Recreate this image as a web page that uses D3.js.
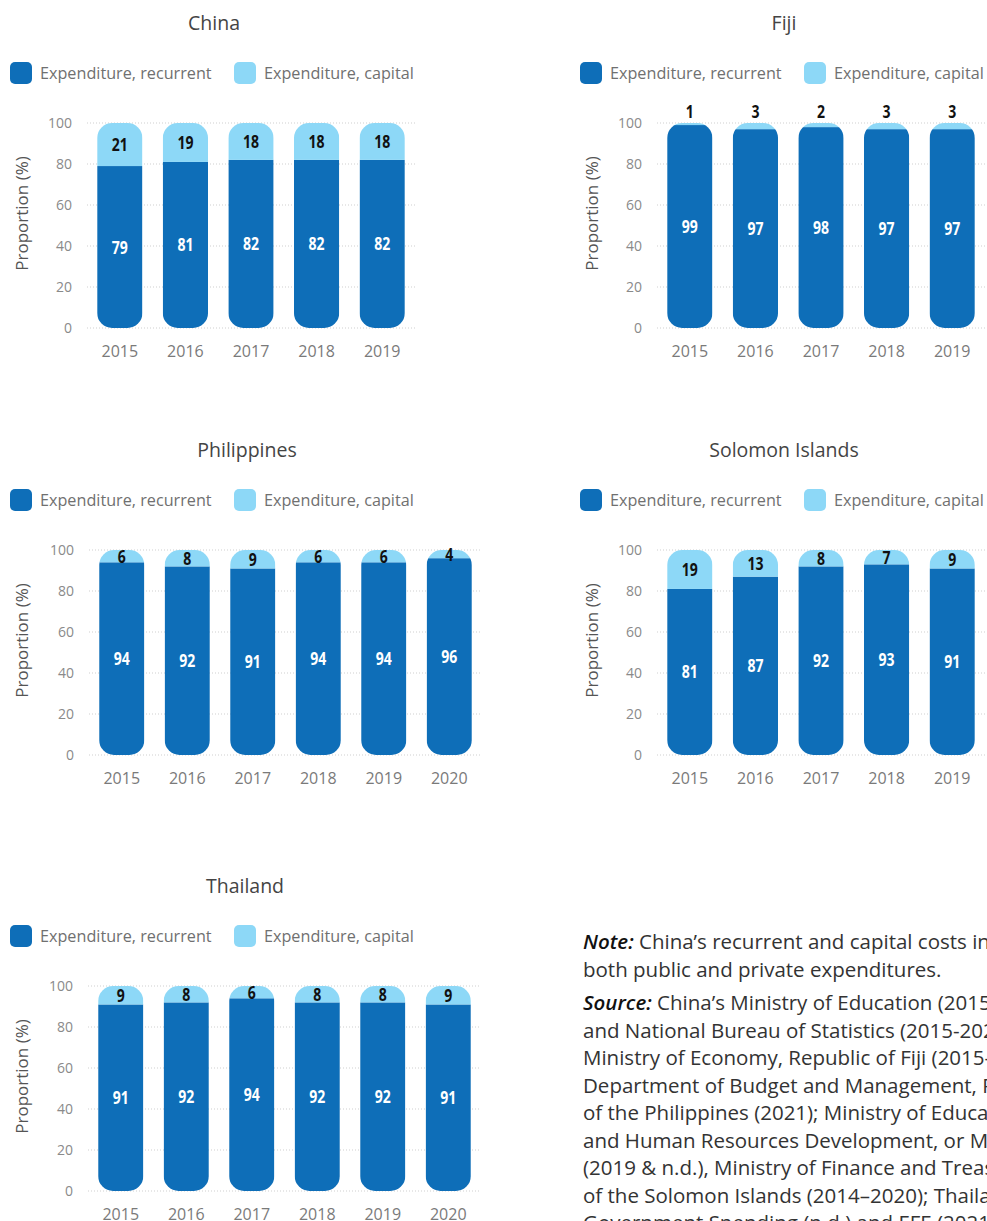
<!DOCTYPE html>
<html>
<head>
<meta charset="utf-8">
<script src="https://cdn.jsdelivr.net/npm/d3@7"></script>
<style>
  html, body { margin: 0; padding: 0; background: #fff; overflow: hidden; }
  svg { display: block; }
</style>
</head>
<body>
<svg id="chart" width="987" height="1221"></svg>
<script>
// Share of education expenditure: recurrent vs capital (%)
const yTicks = [0, 20, 40, 60, 80, 100];
const seriesNames = ["Expenditure, recurrent", "Expenditure, capital"];

const chinaYears = ["2015", "2016", "2017", "2018", "2019"];
const chinaRecurrent = [79, 81, 82, 82, 82];
const chinaCapital = [21, 19, 18, 18, 18];

const fijiYears = ["2015", "2016", "2017", "2018", "2019"];
const fijiRecurrent = [99, 97, 98, 97, 97];
const fijiCapital = [1, 3, 2, 3, 3];

const philippinesYears = ["2015", "2016", "2017", "2018", "2019", "2020"];
const philippinesRecurrent = [94, 92, 91, 94, 94, 96];
const philippinesCapital = [6, 8, 9, 6, 6, 4];

const solomonYears = ["2015", "2016", "2017", "2018", "2019"];
const solomonRecurrent = [81, 87, 92, 93, 91];
const solomonCapital = [19, 13, 8, 7, 9];

const thailandYears = ["2015", "2016", "2017", "2018", "2019", "2020"];
const thailandRecurrent = [91, 92, 94, 92, 92, 91];
const thailandCapital = [9, 8, 6, 8, 8, 9];

const noteLines = [
  "China’s recurrent and capital costs include",
  "both public and private expenditures."
];
const sourceLines = [
  "China’s Ministry of Education (2015-2020)",
  "and National Bureau of Statistics (2015-2020);",
  "Ministry of Economy, Republic of Fiji (2015-2020);",
  "Department of Budget and Management, Republic",
  "of the Philippines (2021); Ministry of Education",
  "and Human Resources Development, or MEHRD",
  "(2019 & n.d.), Ministry of Finance and Treasury",
  "of the Solomon Islands (2014–2020); Thailand’s",
  "Government Spending (n.d.) and EFE (2021)."
];

const DARK = "#0e6eb8";
const LIGHT = "#8dd8f7";
const FONT = "'Open Sans', 'Noto Sans', sans-serif";

const svg = d3.select("#chart");
const defs = svg.append("defs");

const panels = [
  { title: "China", years: chinaYears, rec: chinaRecurrent, cap: chinaCapital,
    ox: 0, oy: 0, titleX: 214, left: 87, right: 415 },
  { title: "Fiji", years: fijiYears, rec: fijiRecurrent, cap: fijiCapital,
    ox: 570, oy: 0, titleX: 214, left: 87, right: 415 },
  { title: "Philippines", years: philippinesYears, rec: philippinesRecurrent, cap: philippinesCapital,
    ox: 0, oy: 427, titleX: 247, left: 89, right: 482 },
  { title: "Solomon Islands", years: solomonYears, rec: solomonRecurrent, cap: solomonCapital,
    ox: 570, oy: 427, titleX: 214, left: 87, right: 415 },
  { title: "Thailand", years: thailandYears, rec: thailandRecurrent, cap: thailandCapital,
    ox: 0, oy: 863, titleX: 245, left: 88, right: 481 }
];

panels.forEach((p, pi) => {
  const g = svg.append("g").attr("transform", `translate(${p.ox},${p.oy})`);
  const plotTop = 123, plotBottom = 328;

  // title
  g.append("text")
    .attr("x", p.titleX).attr("y", 30)
    .attr("text-anchor", "middle")
    .attr("font-family", FONT).attr("font-size", 19.5)
    .attr("fill", "#444")
    .text(p.title);

  // legend
  const legendX = [10, 234];
  seriesNames.forEach((name, i) => {
    const lg = g.append("g").attr("transform", `translate(${legendX[i]},62)`);
    lg.append("rect").attr("width", 22).attr("height", 22).attr("rx", 5)
      .attr("fill", i === 0 ? DARK : LIGHT);
    lg.append("text").attr("x", 30).attr("y", 17)
      .attr("font-family", FONT).attr("font-size", 16.2)
      .attr("fill", "#707070")
      .text(name);
  });

  const y = d3.scaleLinear().domain([0, 100]).range([plotBottom, plotTop]);
  const x = d3.scaleBand().domain(p.years).range([p.left, p.right]).paddingInner(0.31).paddingOuter(0.155);

  // gridlines
  g.append("g").selectAll("line").data(yTicks).join("line")
    .attr("x1", p.left).attr("x2", p.right)
    .attr("y1", d => y(d)).attr("y2", d => y(d))
    .attr("stroke", "#cfcfcf").attr("stroke-width", 1)
    .attr("stroke-dasharray", "1,2");

  // y axis
  const yAxis = g.append("g").attr("transform", `translate(${p.left - 15},0)`)
    .call(d3.axisLeft(y).tickValues(yTicks).tickSize(0).tickPadding(0));
  yAxis.select(".domain").remove();
  yAxis.selectAll("text").attr("font-family", FONT).attr("font-size", 14).attr("fill", "#8a8a8a");

  // y axis title
  g.append("text")
    .attr("transform", `translate(28,${(plotTop + plotBottom) / 2 - 12}) rotate(-90)`)
    .attr("text-anchor", "middle")
    .attr("font-family", FONT).attr("font-size", 17)
    .attr("fill", "#555")
    .text("Proportion (%)");

  // x axis
  const xAxis = g.append("g").attr("transform", `translate(0,${plotBottom + 11})`)
    .call(d3.axisBottom(x).tickSize(0).tickPadding(7));
  xAxis.select(".domain").remove();
  xAxis.selectAll("text").attr("font-family", FONT).attr("font-size", 16).attr("fill", "#7a7a7a");

  // stacked bars, clipped to a rounded column
  const rows = p.years.map((yr, i) => ({ year: yr, rec: p.rec[i], cap: p.cap[i] }));
  const stack = d3.stack().keys(["rec", "cap"])(rows);
  const bw = x.bandwidth();
  const radius = 15;

  rows.forEach((r, i) => {
    const id = `clip-${pi}-${i}`;
    const total = r.rec + r.cap;
    defs.append("clipPath").attr("id", id)
      .append("rect")
      .attr("x", x(r.year)).attr("y", y(total))
      .attr("width", bw).attr("height", y(0) - y(total))
      .attr("rx", radius);
    const bg = g.append("g").attr("clip-path", `url(#${id})`);
    stack.forEach((s, si) => {
      const d = s[i];
      bg.append("rect")
        .attr("x", x(r.year)).attr("y", y(d[1]))
        .attr("width", bw).attr("height", y(d[0]) - y(d[1]))
        .attr("fill", si === 0 ? DARK : LIGHT);
    });
  });

  // value labels (narrowed bold digits)
  stack.forEach((s, si) => {
    s.forEach((d, i) => {
      const r = rows[i];
      const h = y(d[0]) - y(d[1]);
      let cy = (y(d[0]) + y(d[1])) / 2;
      if (h < 7) cy = y(d[1]) - 11;
      g.append("text")
        .attr("transform", `translate(${x(r.year) + bw / 2},${cy}) scale(0.78,1)`)
        .attr("dy", "0.36em")
        .attr("text-anchor", "middle")
        .attr("font-family", FONT).attr("font-weight", "bold")
        .attr("font-size", 18)
        .attr("fill", si === 0 ? "#ffffff" : "#111")
        .text(si === 0 ? r.rec : r.cap);
    });
  });
});

// note and source text
const notes = svg.append("g").attr("transform", "translate(583,0)")
  .attr("font-family", FONT).attr("font-size", 20.5).attr("fill", "#333");
const addLine = (lead, line, yPos) => {
  const t = notes.append("text").attr("y", yPos);
  if (lead) {
    t.append("tspan").attr("font-style", "italic").attr("font-weight", 600).attr("fill", "#111").text(lead);
    t.append("tspan").text(" " + line);
  } else {
    t.text(line);
  }
};
noteLines.forEach((line, i) => addLine(i === 0 ? "Note:" : null, line, 949 + i * 27.5));
sourceLines.forEach((line, i) => addLine(i === 0 ? "Source:" : null, line, 1010 + i * 27.5));
</script>
</body>
</html>
